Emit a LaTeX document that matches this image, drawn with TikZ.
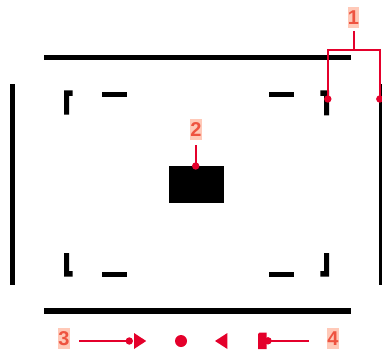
\documentclass[tikz,border=0pt]{standalone}
\usepackage{fontspec}
\setmainfont{Liberation Sans}
\definecolor{mark}{HTML}{E4002B}
\definecolor{lab}{HTML}{EE5340}
\definecolor{labbg}{HTML}{FFC9B8}
\tikzset{
  solidbar/.style={fill=black,draw=none},
  lbl/.style={fill=labbg,text=lab,font=\fontsize{20}{20}\selectfont\bfseries,inner sep=0pt,minimum width=11.6pt,minimum height=21.5pt,text height=14.5pt,text depth=0pt},
  dot/.style={circle,fill=mark,draw=none,inner sep=0pt,minimum size=7.4pt},
  lead/.style={draw=mark,line width=2pt},
  sym/.style={fill=mark,draw=none}
}
\begin{document}
\begin{tikzpicture}[x=1pt,y=-1pt]
\useasboundingbox (0,0) rectangle (382,350);
% frame bars
\fill[solidbar] (44,55.2) rectangle (350.5,60.4);
\fill[solidbar] (44,308.4) rectangle (350.5,313.6);
\fill[solidbar] (10,84) rectangle (15,285);
\fill[solidbar] (379.4,84) rectangle (382,285);
% corner brackets
\fill[solidbar] (64,90.5) -- (72.6,90.5) -- (72.6,96) -- (69.2,96) -- (69.2,114.6) -- (64,114.6) -- cycle;
\fill[solidbar] (329,90.5) -- (320.4,90.5) -- (320.4,96) -- (324.2,96) -- (324.2,115.4) -- (329,115.4) -- cycle;
\fill[solidbar] (64,253.2) -- (69.2,253.2) -- (69.2,271) -- (72.6,271) -- (72.6,276.6) -- (64,276.6) -- cycle;
\fill[solidbar] (329,253.2) -- (324.2,253.2) -- (324.2,271) -- (320.4,271) -- (320.4,276.6) -- (329,276.6) -- cycle;
% dashes
\fill[solidbar] (102,92.2) rectangle (127,97.4);
\fill[solidbar] (269.4,92.2) rectangle (294,97.4);
\fill[solidbar] (102,271.6) rectangle (127,276.8);
\fill[solidbar] (269.4,271.6) rectangle (294,276.8);
% centre block
\fill[solidbar] (169,166) rectangle (224.4,203);
% symbols
\fill[sym] (134,333) -- (146.2,341) -- (134,349) -- cycle;
\fill[sym] (181,341) circle (6pt);
\fill[sym] (227.4,333) -- (215,341) -- (227.4,349) -- cycle;
\fill[sym] (259.5,332.5) -- (266.6,332.5) -- (266.6,349) -- (258,349) -- (258,334) -- cycle;
% labels
\node[lbl] (l1) at (353.4,17.5) {1};
\node[lbl] (l2) at (196,129.5) {2};
\node[lbl] (l3) at (64,338.5) {3};
\node[lbl] (l4) at (333,338.5) {4};
% anchors
\node[dot] (d1a) at (327.8,99) {};
\node[dot] (d1b) at (379.8,99) {};
\node[dot] (d2) at (195.7,166) {};
\node[dot] (d3) at (129.3,341) {};
\node[dot] (d4) at (268,340.8) {};
\coordinate (s1) at (353.7,31);
\coordinate (j1) at (353.7,50);
\coordinate (s2) at (195.7,145);
\coordinate (s3) at (79,341);
\coordinate (s4) at (309,340.8);
% leaders
\draw[lead] (s1) -- (j1);
\draw[lead] (d1a.center) |- (j1) -| (d1b.center);
\draw[lead] (s2) -- (d2.center);
\draw[lead] (s3) -- (d3.center);
\draw[lead] (s4) -- (d4.center);
\end{tikzpicture}
\end{document}
